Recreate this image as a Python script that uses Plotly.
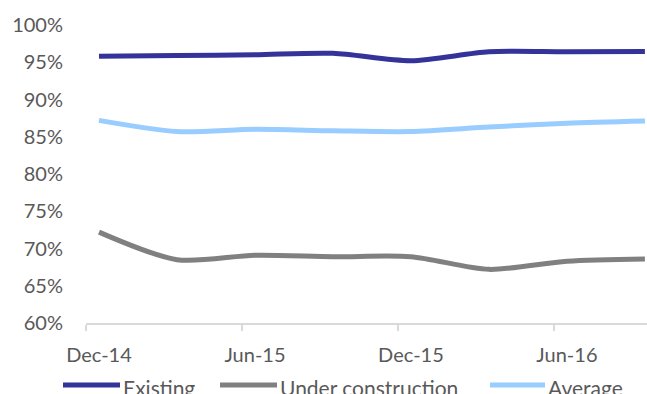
import plotly.graph_objects as go

# Quarter-end periods and their month offsets from Dec-14
quarters = ["Dec-14", "Mar-15", "Jun-15", "Sep-15", "Dec-15", "Mar-16", "Jun-16", "Sep-16"]
month_index = [0, 3, 6, 9, 12, 15, 18, 21]

# Occupancy rates (%)
existing = [95.8, 95.9, 96.0, 96.2, 95.2, 96.4, 96.4, 96.45]
under_construction = [72.2, 68.5, 69.1, 68.9, 68.9, 67.2, 68.3, 68.6]
average = [87.2, 85.7, 86.0, 85.8, 85.7, 86.3, 86.8, 87.1]

# Axis labels
x_tick_pos = [0, 6, 12, 18]
x_tick_text = ["Dec-14", "Jun-15", "Dec-15", "Jun-16"]
y_ticks = [60, 65, 70, 75, 80, 85, 90, 95, 100]

series = [
    ("Existing", existing, "#333399"),
    ("Under construction", under_construction, "#808080"),
    ("Average", average, "#99CCFF"),
]

W, H = 647, 394
L, R, T, B = 86, 0, 25, 71
plot_w, plot_h = W - L - R, H - T - B
font_color = "#595959"

fig = go.Figure()
for name, vals, color in series:
    fig.add_trace(go.Scatter(
        x=month_index, y=vals, name=name, mode="lines",
        line=dict(color=color, width=5, shape="spline", smoothing=0.8),
        showlegend=False,
    ))

# Legend drawn below the axis: a swatch line followed by the series name
def px_to_paper_x(px):
    return (px - L) / plot_w

def px_to_paper_y(py):
    return (H - B - py) / plot_h

legend_y = px_to_paper_y(385)
swatch_px = [(63, 120), (220, 277), (490, 545)]
for (name, _, color), (x0, x1) in zip(series, swatch_px):
    fig.add_shape(type="line", xref="paper", yref="paper",
                  x0=px_to_paper_x(x0), x1=px_to_paper_x(x1),
                  y0=legend_y, y1=legend_y,
                  line=dict(color=color, width=5))
    fig.add_annotation(xref="paper", yref="paper", x=px_to_paper_x(x1 + 1),
                       y=px_to_paper_y(387), xanchor="left", yanchor="middle",
                       text=name, showarrow=False,
                       font=dict(size=21, color=font_color, family="Lato"))

fig.update_layout(
    width=W, height=H,
    margin=dict(l=L, r=R, t=T, b=B, autoexpand=False),
    paper_bgcolor="white", plot_bgcolor="white",
    font=dict(family="Lato", size=20, color=font_color),
    showlegend=False,
    xaxis=dict(
        range=[-0.5, 21.08], showgrid=False, zeroline=False, automargin=False,
        showline=True, linecolor="#D9D9D9", linewidth=1.5,
        tickmode="array", tickvals=x_tick_pos, ticktext=x_tick_text,
        ticks="", ticklabelstandoff=13,
        minor=dict(tickmode="array", tickvals=[-0.5, 5.5, 11.5, 17.5],
                   ticks="outside", ticklen=6, tickcolor="#D9D9D9", tickwidth=1.5),
    ),
    yaxis=dict(
        range=[60, 100], showgrid=False, zeroline=False, showline=False,
        automargin=False,
        tickmode="array", tickvals=y_ticks,
        ticktext=[f"{v}%" for v in y_ticks], ticks="", ticklabelstandoff=22,
    ),
)

fig.write_html("out.html")
